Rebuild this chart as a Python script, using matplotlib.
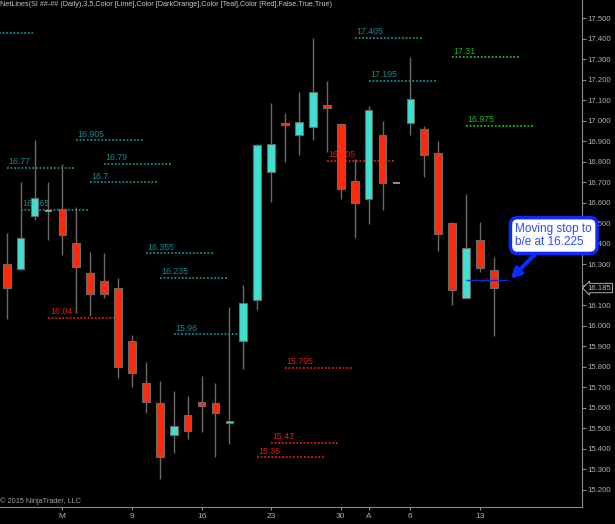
import numpy as np
import matplotlib.pyplot as plt

plt.rcParams['font.family'] = ['Liberation Sans', 'DejaVu Sans']

# 日线数据 (2015-02-24 .. 2015-04-14)
opens = [16.30, 16.28, 16.535, 16.56, 16.57, 16.405, 16.26, 16.22, 16.185, 15.925,
         15.72, 15.625, 15.467, 15.565, 15.63, 15.625, 15.528, 15.925, 16.125, 16.75,
         16.99, 16.93, 16.97, 17.08, 16.985, 16.705, 16.62, 16.93, 16.695, 16.99,
         16.96, 16.845, 16.50, 16.135, 16.42, 16.275]
highs = [16.455, 16.70, 16.905, 16.70, 16.79, 16.58, 16.36, 16.355, 16.235, 15.955,
         15.825, 15.73, 15.683, 15.66, 15.755, 15.72, 16.093, 16.20, 16.89, 17.09,
         17.04, 17.14, 17.405, 17.195, 16.99, 16.815, 17.075, 17.0, 16.695, 17.31,
         16.975, 16.90, 16.505, 16.645, 16.505, 16.335]
lows = [16.035, 16.275, 16.515, 16.42, 16.345, 16.065, 16.05, 16.135, 15.745, 15.70,
        15.575, 15.255, 15.38, 15.45, 15.485, 15.36, 15.426, 15.79, 16.08, 16.605,
        16.80, 16.835, 16.905, 16.85, 16.62, 16.43, 16.495, 16.565, 16.695, 16.93,
        16.725, 16.365, 16.10, 16.135, 16.265, 15.95]
closes = [16.185, 16.43, 16.625, 16.56, 16.445, 16.29, 16.155, 16.155, 15.80, 15.77,
          15.63, 15.36, 15.51, 15.49, 15.61, 15.575, 15.538, 16.11, 16.885, 16.89,
          16.98, 16.995, 17.14, 17.065, 16.67, 16.60, 17.055, 16.695, 16.695, 17.105,
          16.835, 16.45, 16.175, 16.38, 16.285, 16.185]

date_ticks = [4, 9, 14, 19, 24, 26, 29, 34]
date_labels = ['M', '9', '16', '23', '30', 'A', '6', '13']

# 水平线 (NetLines)
teal_levels = [17.43, 16.77, 16.565, 16.905, 16.7, 16.79, 16.355, 16.235, 15.96, 17.405, 17.195]
teal_start = [-3, 0, 1, 5, 6, 7, 10, 11, 12, 25, 26]
green_levels = [17.31, 16.975]
green_start = [32, 33]
red_levels = [16.04, 15.36, 15.43, 15.795, 16.805]
red_start = [3, 18, 19, 20, 23]

stop_price = 16.225
last_price = closes[-1]

fig = plt.figure(figsize=(6.15, 5.24), dpi=100, facecolor='black')
ax = fig.add_axes([0, 17 / 524, 582 / 615, 507 / 524])
ax.set_facecolor('black')

# 画水平线
def draw_levels(levels, starts, color):
    for v, s in zip(levels, starts):
        ax.hlines(v, s, s + 4.9, colors=color, linestyles=(0, (1, 1)), lw=1.3, zorder=1)
        ax.annotate(f"{v:g}", xy=(s, v), xytext=(1, 1.2), textcoords='offset points',
                    fontsize=6.3, color=color, ha='left', va='bottom', zorder=1,
                    annotation_clip=True, clip_on=True)

draw_levels(teal_levels, teal_start, '#138c8c')
draw_levels(green_levels, green_start, '#22b522')
draw_levels(red_levels, red_start, '#d8200a')

# K线
x = np.arange(len(opens))
w = 0.55
for i in x:
    o, h, l, c = opens[i], highs[i], lows[i], closes[i]
    if h > l:
        ax.vlines(i, l, h, colors='#6a6a6a', lw=1, zorder=2)
    if o == c:
        ax.hlines(o, i - w / 2, i + w / 2, colors='#a8a8a8', lw=1.2, zorder=3)
        continue
    col = '#40e0d0' if c > o else '#ff2a0a'
    ax.bar(i, abs(c - o), bottom=min(o, c), width=w, color=col,
           edgecolor='#6a6a6a', lw=0.8, zorder=3)

# 止损线
ax.hlines(stop_price, 33, 36, colors='#1428d8', lw=1, zorder=4)

ax.annotate("Moving stop to\nb/e at 16.225", xy=(36.2, 16.229), xytext=(39.3, 16.441),
            ha='center', va='center', multialignment='left', fontsize=8.5, color='#2a4bff',
            bbox=dict(boxstyle='round,pad=0.42,rounding_size=0.6', fc='white', ec='#0a2aff', lw=2.5),
            arrowprops=dict(arrowstyle='-|>', color='#0a2aff', lw=3, mutation_scale=14,
                            shrinkA=0, shrinkB=0),
            annotation_clip=False, zorder=10)

# 坐标轴
yt = np.round(np.arange(15.2, 17.51, 0.1), 1)
ax.set_xlim(-0.48, 41.33)
ax.set_ylim(15.117, 17.590)
ax.yaxis.tick_right()
ax.set_yticks(yt)
# 16.200 被最新价标签盖住
ax.set_yticklabels(["" if abs(t - 16.2) < 1e-6 else f"{t:.3f}" for t in yt])
ax.set_xticks(date_ticks)
ax.set_xticklabels(date_labels)
ax.tick_params(axis='y', colors='#8a8a8a', labelcolor='#b0b0b0', labelsize=5.6, length=3, pad=1, width=0.8)
ax.tick_params(axis='x', colors='#8a8a8a', labelcolor='#b0b0b0', labelsize=6, length=2.5, pad=2, width=0.8)
for side in ['top', 'left']:
    ax.spines[side].set_visible(False)
for side in ['right', 'bottom']:
    ax.spines[side].set_color('#8a8a8a')
    ax.spines[side].set_linewidth(0.8)

# 最新价标签
ax.annotate(f"{last_price:.3f}", xy=(1, last_price), xycoords=('axes fraction', 'data'),
            xytext=(4, 0), textcoords='offset points', ha='left', va='center',
            fontsize=5.6, color='#c0c0c0',
            bbox=dict(boxstyle='larrow,pad=0.15', fc='black', ec='#b0b0b0', lw=0.7),
            annotation_clip=False, zorder=12)

ax.text(0.0, 0.998, "NetLines(SI ##-## (Daily),3,5,Color [Lime],Color [DarkOrange],Color [Teal],Color [Red],False,True,True)",
        transform=ax.transAxes, ha='left', va='top', fontsize=5.2, color='#c8c8c8')
ax.text(0.0, 0.003, "© 2015 NinjaTrader, LLC", transform=ax.transAxes,
        ha='left', va='bottom', fontsize=5.3, color='#a0a0a0')

fig.savefig('out.png', dpi=100, facecolor='black')
